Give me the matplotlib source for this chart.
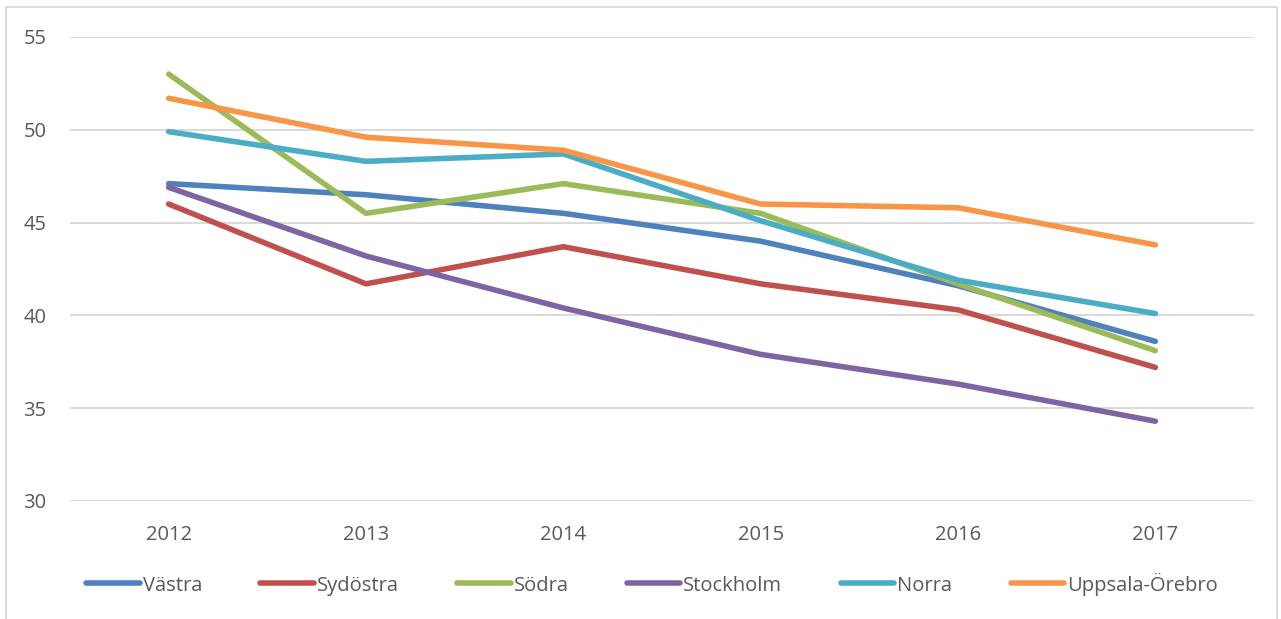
import numpy as np
import matplotlib.pyplot as plt
from matplotlib.patches import Rectangle

years = ["2012", "2013", "2014", "2015", "2016", "2017"]
vastra = [47.1, 46.5, 45.5, 44.0, 41.6, 38.6]
sydostra = [46.0, 41.7, 43.7, 41.7, 40.3, 37.2]
sodra = [53.0, 45.5, 47.1, 45.5, 41.7, 38.1]
stockholm = [46.9, 43.2, 40.4, 37.9, 36.3, 34.3]
norra = [49.9, 48.3, 48.7, 45.1, 41.9, 40.1]
uppsala = [51.7, 49.6, 48.9, 46.0, 45.8, 43.8]

series = [
    ("Västra", vastra, "#4F81BD"),
    ("Sydöstra", sydostra, "#C0504D"),
    ("Södra", sodra, "#9BBB59"),
    ("Stockholm", stockholm, "#8064A2"),
    ("Norra", norra, "#4BACC6"),
    ("Uppsala-Örebro", uppsala, "#F79646"),
]

plt.rcParams['font.family'] = ['Open Sans', 'DejaVu Sans']
txt = "#595959"

fig = plt.figure(figsize=(12.81, 6.19), dpi=100)
ax = fig.add_axes([70/1281, 1 - 501/619, (1254 - 70)/1281, (501 - 37)/619])

x = np.arange(len(years))
for name, vals, col in series:
    ax.plot(x, vals, color=col, lw=4, label=name, solid_capstyle='round')

ax.set_xlim(-0.5, len(years) - 0.5)
ax.set_ylim(30, 55)
ax.set_yticks(range(30, 56, 5))
ax.set_xticks(x, years)
ax.grid(axis='y', color='#D9D9D9', lw=1.4)
ax.set_axisbelow(True)
for s in ax.spines.values():
    s.set_visible(False)
ax.tick_params(length=0, labelsize=14.5, colors=txt)
ax.tick_params(axis='y', pad=17)
ax.tick_params(axis='x', pad=17)

leg = ax.legend(loc='center', bbox_to_anchor=(652/1281, 1 - 584/619),
                bbox_transform=fig.transFigure, ncol=6, frameon=False,
                fontsize=14.5, handlelength=2.65, handletextpad=0.15,
                columnspacing=2.9, labelcolor=txt)

fig.patches.append(Rectangle((6/1281, -0.1), (1277 - 6)/1281, 1.1 - 7/619,
                             transform=fig.transFigure, fill=False,
                             ec='#D9D9D9', lw=1.3))

fig.savefig("out.png", dpi=100)
